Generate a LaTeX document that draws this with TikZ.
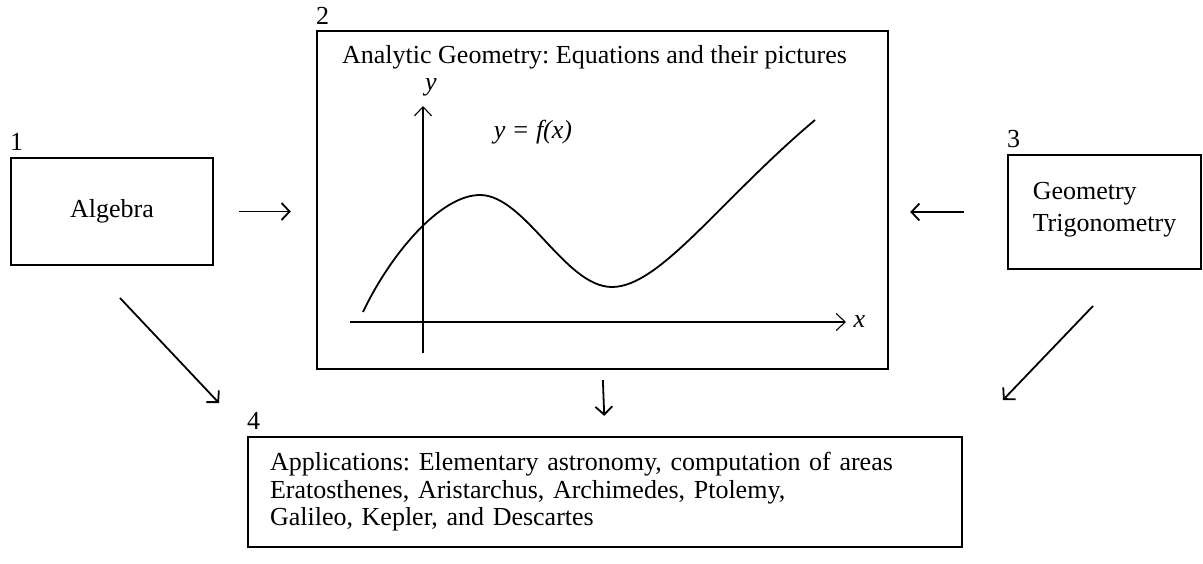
\documentclass[tikz,border=0pt]{standalone}
\usepackage{fontspec}
\setmainfont{Liberation Serif}
\usetikzlibrary{arrows.meta,calc,positioning}
\frenchspacing

\begin{document}
\begin{tikzpicture}[x=1pt,y=-1pt,font=\fontsize{26}{32}\selectfont,
  box/.style={draw,line width=2.4pt,inner sep=0pt},
  num/.style={inner sep=0pt,anchor=south west},
  arr/.style={-{Straight Barb[length=8pt,width=17pt]},line width=1.8pt},
  axis/.style={-{Straight Barb[length=9pt,width=17pt]},line width=1.1pt}]
\useasboundingbox (0,0) rectangle (1203,563);
% the four boxes
\node[box,minimum width=202pt,minimum height=107pt] (alg) at (112,211.5) {Algebra};
\node[box,minimum width=571pt,minimum height=338pt] (geo) at (602.5,200) {};
\node[box,minimum width=193pt,minimum height=114pt,align=left] (trig) at (1104.5,212) {Geometry\\Trigonometry\strut};
\node[box,minimum width=714pt,minimum height=110pt,text width=670pt,inner xsep=22pt,align=left,
  font=\fontsize{26}{27.5}\selectfont] (app) at (605,492)
  {Applications: Elementary astronomy, computation of areas\\Eratosthenes, Aristarchus, Archimedes, Ptolemy,\\Galileo, Kepler, and Descartes};
\node[num] (n1) at ($(alg.north west)+(0,-6)$) {1};
\node[num] (n2) at ($(geo.north west)+(0,-5)$) {2};
\node[num] (n3) at ($(trig.north west)+(0,-6)$) {3};
\node[num] (n4) at ($(app.north west)+(0,-6)$) {4};
% inside box 2
\node[below=12pt of geo.north,xshift=-8pt] (ttl) {Analytic Geometry: Equations and their pictures};
\coordinate (yb) at (423,353);
\coordinate (yt) at (423,106);
\coordinate (xl) at (350,322);
\coordinate (xr) at (846,322);
\draw[axis] (yb) -- (yt);
\draw[axis] (xl) -- (xr);
\node[right=4pt of xr] (xlab) {\textit{x}};
\node (ylab) at (431,87) {\textit{y}};
\node (fx) at (533,132) {\textit{y = f(x)}};
\draw[line width=1.8pt] (363,312) .. controls (390,255) and (440,195) .. (480,195)
  .. controls (525,195) and (565,287) .. (612,287)
  .. controls (660,287) and (720,200) .. (815,120);
% connectors
\coordinate (d1s) at (120,298);
\coordinate (d1e) at (219,403);
\coordinate (d3s) at (1093,306);
\coordinate (d3e) at (1003,400);
\draw[arr,shorten <=25pt,shorten >=25pt] (alg.east) -- (alg.east -| geo.west);
\draw[arr,shorten <=43pt,shorten >=21pt] (trig.west) -- (trig.west -| geo.east);
\draw[arr,shorten <=10pt,shorten >=20pt] (geo.south) -- (app.north);
\draw[arr] (d1s) -- (d1e);
\draw[arr] (d3s) -- (d3e);
\end{tikzpicture}
\end{document}
